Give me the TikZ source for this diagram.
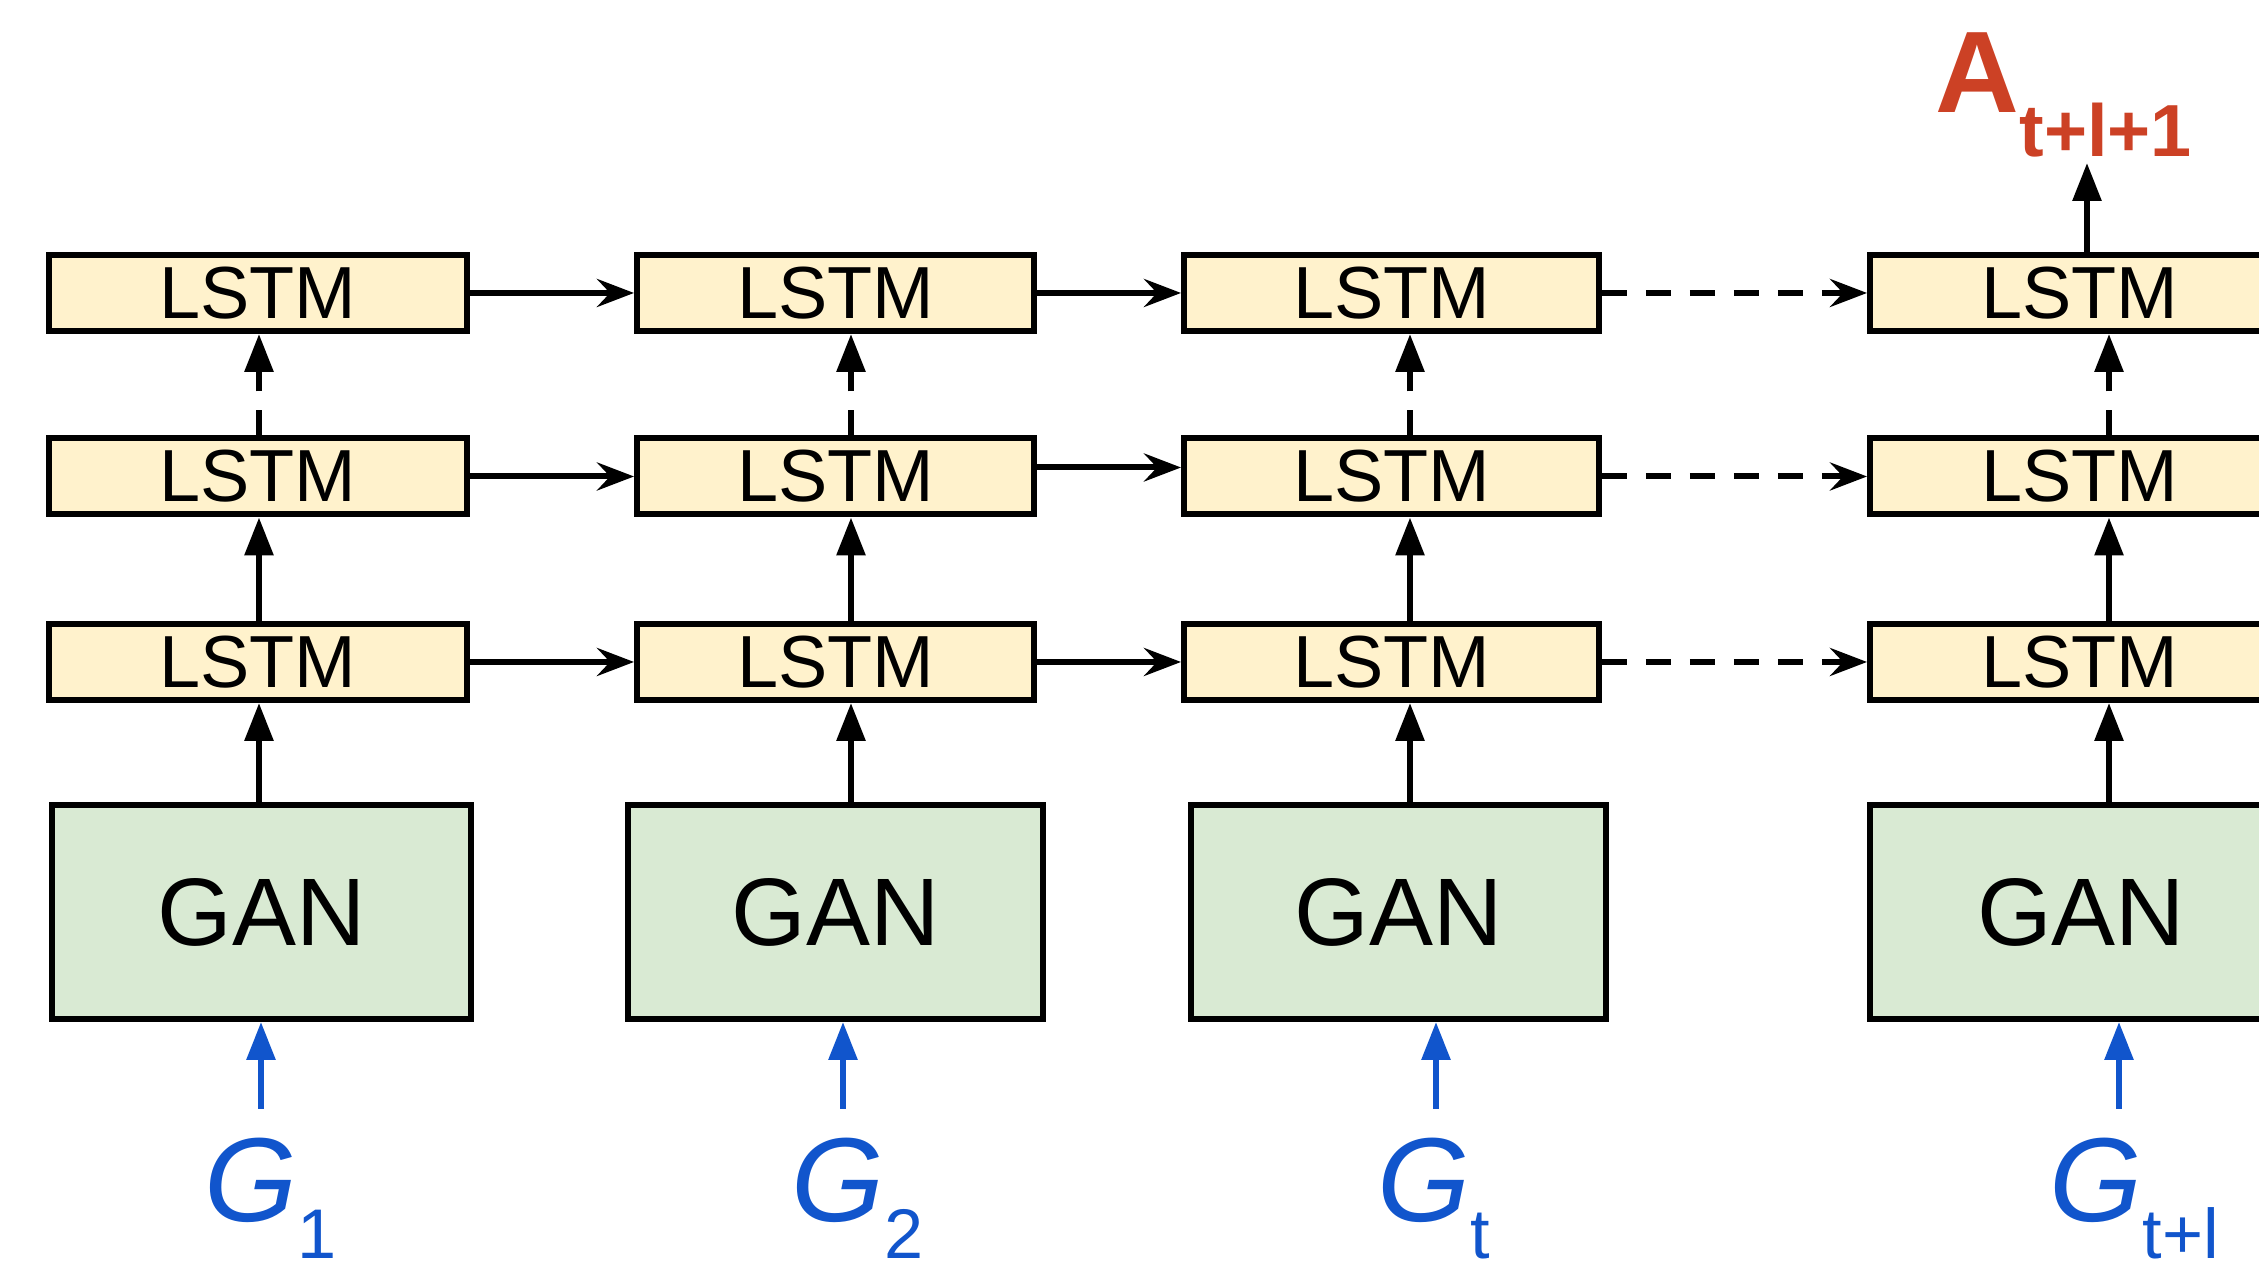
\documentclass[tikz,border=0pt]{standalone}
\usepackage{fontspec}
\setmainfont{Liberation Sans}
\usetikzlibrary{arrows.meta}
\definecolor{lstmfill}{HTML}{FFF2CC}
\definecolor{ganfill}{HTML}{D9EAD3}
\definecolor{inblue}{HTML}{1155CC}
\definecolor{outred}{HTML}{CC4125}
\begin{document}
\begin{tikzpicture}[
  lstmbox/.style={draw, line width=1.7pt, fill=lstmfill, minimum height=0.76cm, inner sep=0pt, font=\fontsize{21}{21}\selectfont},
  ganbox/.style={draw, line width=1.7pt, fill=ganfill, minimum height=2.14cm, inner sep=0pt, font=\fontsize{27.3}{27.3}\selectfont},
  uparrow/.style={line width=1.7pt, -{Triangle[length=0.38cm,width=0.28cm]}},
  fwdarrow/.style={line width=1.7pt, -{Stealth[length=0.37cm,width=0.28cm,inset=0.13cm]}},
  dashpat/.style={dash pattern=on 0.25cm off 0.19cm},
  glabel/.style={anchor=base west, inner sep=0pt, text=inblue}
]
\useasboundingbox (0,0) rectangle (22.59,12.62);
% LSTM stack, three layers per step
\node[lstmbox, minimum width=4.18cm] (lt1) at (2.58,9.69) {LSTM};
\node[lstmbox, minimum width=3.97cm] (lt2) at (8.355,9.69) {LSTM};
\node[lstmbox, minimum width=4.15cm] (lt3) at (13.915,9.69) {LSTM};
\node[lstmbox, minimum width=4.20cm] (lt4) at (20.80,9.69) {LSTM};
\node[lstmbox, minimum width=4.18cm] (lm1) at (2.58,7.855) {LSTM};
\node[lstmbox, minimum width=3.97cm] (lm2) at (8.355,7.855) {LSTM};
\node[lstmbox, minimum width=4.15cm] (lm3) at (13.915,7.855) {LSTM};
\node[lstmbox, minimum width=4.20cm] (lm4) at (20.80,7.855) {LSTM};
\node[lstmbox, minimum width=4.18cm] (lb1) at (2.58,6.00) {LSTM};
\node[lstmbox, minimum width=3.97cm] (lb2) at (8.355,6.00) {LSTM};
\node[lstmbox, minimum width=4.15cm] (lb3) at (13.915,6.00) {LSTM};
\node[lstmbox, minimum width=4.20cm] (lb4) at (20.80,6.00) {LSTM};
% GAN blocks
\node[ganbox, minimum width=4.19cm] (gan1) at (2.615,3.50) {GAN};
\node[ganbox, minimum width=4.15cm] (gan2) at (8.355,3.50) {GAN};
\node[ganbox, minimum width=4.15cm] (gan3) at (13.985,3.50) {GAN};
\node[ganbox, minimum width=4.22cm] (gan4) at (20.81,3.50) {GAN};
% inputs
\node[glabel] (g1) at (2.04,0.40) {{\fontsize{34}{34}\selectfont\itshape G}\raisebox{-0.37cm}{\fontsize{20}{20}\selectfont 1}};
\node[glabel] (g2) at (7.91,0.40) {{\fontsize{34}{34}\selectfont\itshape G}\raisebox{-0.37cm}{\fontsize{20}{20}\selectfont 2}};
\node[glabel] (g3) at (13.77,0.40) {{\fontsize{34}{34}\selectfont\itshape G}\raisebox{-0.37cm}{\fontsize{20}{20}\selectfont t}};
\node[glabel] (g4) at (20.49,0.40) {{\fontsize{34}{34}\selectfont\itshape G}\raisebox{-0.37cm}{\fontsize{20}{20}\selectfont t+l}};
\coordinate (in1) at (2.61,1.53);
\coordinate (in2) at (8.43,1.53);
\coordinate (in3) at (14.36,1.53);
\coordinate (in4) at (21.19,1.53);
\draw[uparrow, inblue] (in1) -- (gan1.south -| in1);
\draw[uparrow, inblue] (in2) -- (gan2.south -| in2);
\draw[uparrow, inblue] (in3) -- (gan3.south -| in3);
\draw[uparrow, inblue] (in4) -- (gan4.south -| in4);
% output
\node[anchor=base west, inner sep=0pt, text=outred, font=\bfseries] (aout) at (19.35,11.49) {{\fontsize{33}{33}\selectfont A}\raisebox{-0.44cm}{\fontsize{21}{21}\selectfont t+l+1}};
\coordinate (top4) at (20.87,10.99);
\draw[uparrow] (lt4.north -| top4) -- (top4);
% vertical links
\coordinate (c1) at (2.59,0);
\coordinate (c2) at (8.51,0);
\coordinate (c3) at (14.10,0);
\coordinate (c4) at (21.09,0);
\draw[uparrow] (gan1.north -| c1) -- (lb1.south -| c1);
\draw[uparrow] (gan2.north -| c2) -- (lb2.south -| c2);
\draw[uparrow] (gan3.north -| c3) -- (lb3.south -| c3);
\draw[uparrow] (gan4.north -| c4) -- (lb4.south -| c4);
\draw[uparrow] (lb1.north -| c1) -- (lm1.south -| c1);
\draw[uparrow] (lb2.north -| c2) -- (lm2.south -| c2);
\draw[uparrow] (lb3.north -| c3) -- (lm3.south -| c3);
\draw[uparrow] (lb4.north -| c4) -- (lm4.south -| c4);
\draw[uparrow, dashpat] (lm1.north -| c1) -- (lt1.south -| c1);
\draw[uparrow, dashpat] (lm2.north -| c2) -- (lt2.south -| c2);
\draw[uparrow, dashpat] (lm3.north -| c3) -- (lt3.south -| c3);
\draw[uparrow, dashpat] (lm4.north -| c4) -- (lt4.south -| c4);
% recurrent links
\draw[fwdarrow] (lt1.east) -- (lt2.west);
\draw[fwdarrow] (lt2.east) -- (lt3.west);
\draw[fwdarrow, dashpat] (lt3.east) -- (lt4.west);
\draw[fwdarrow] (lm1.east) -- (lm2.west);
\draw[fwdarrow] ([yshift=0.09cm]lm2.east) -- ([yshift=0.09cm]lm3.west);
\draw[fwdarrow, dashpat] (lm3.east) -- (lm4.west);
\draw[fwdarrow] (lb1.east) -- (lb2.west);
\draw[fwdarrow] (lb2.east) -- (lb3.west);
\draw[fwdarrow, dashpat] (lb3.east) -- (lb4.west);
\end{tikzpicture}
\end{document}
